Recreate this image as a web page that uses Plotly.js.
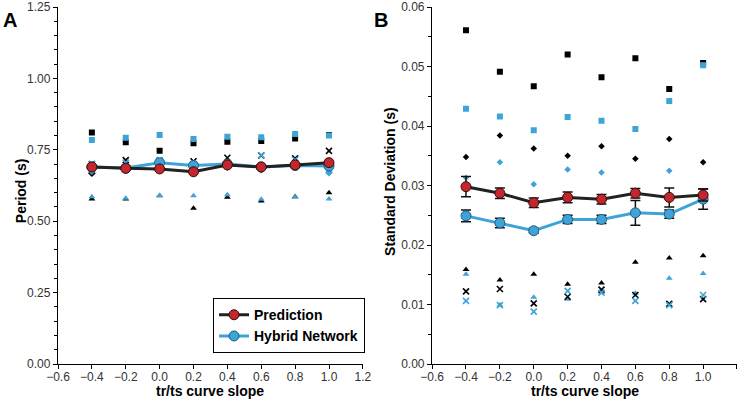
<!DOCTYPE html>
<html>
<head>
<meta charset="utf-8">
<script src="https://cdn.plot.ly/plotly-3.0.1.min.js"></script>
<style>html,body{margin:0;padding:0;background:#fff;}#chart{width:744px;height:401px;}</style>
</head>
<body>
<div id="chart"></div>
<script>
// x categories: tr/ts curve slope
const slopes = [-0.4, -0.2, 0.0, 0.2, 0.4, 0.6, 0.8, 1.0];

// Panel A: Period (s)
const periodPrediction = [0.690, 0.685, 0.683, 0.673, 0.697, 0.690, 0.697, 0.705];
const periodHybrid     = [0.690, 0.686, 0.705, 0.695, 0.700, 0.690, 0.695, 0.693];
const periodBlackSquare = [0.811, 0.776, 0.747, 0.773, 0.778, 0.781, 0.790, 0.802];
const periodBlueSquare  = [0.784, 0.792, 0.802, 0.788, 0.796, 0.794, 0.805, 0.800];
const periodBlackTri    = [0.578, 0.578, 0.589, 0.545, 0.584, 0.571, 0.586, 0.600];
const periodBlueTri     = [0.586, 0.580, 0.590, 0.589, 0.593, 0.577, 0.585, 0.578];
const periodBlackX      = [0.700, 0.714, 0.710, 0.710, 0.722, 0.730, 0.720, 0.746];
const periodBlueX       = [0.700, 0.705, 0.714, 0.700, 0.700, 0.731, 0.715, 0.685];
const periodBlackDiam   = [0.668, 0.680, 0.690, 0.685, 0.690, 0.685, 0.690, 0.695];
const periodBlueDiam    = [0.675, 0.680, 0.690, 0.680, 0.695, 0.680, 0.690, 0.670];

// Panel B: Standard deviation (s)
const sdPrediction    = [0.0298, 0.0287, 0.0271, 0.0280, 0.0277, 0.0287, 0.0280, 0.0284];
const sdPredictionErr = [0.0017, 0.0009, 0.0008, 0.0009, 0.0008, 0.0008, 0.0016, 0.0010];
const sdHybrid        = [0.0249, 0.0237, 0.0224, 0.0243, 0.0243, 0.0254, 0.0252, 0.0277];
const sdHybridErr     = [0.0010, 0.0008, 0.0004, 0.0007, 0.0007, 0.0021, 0.0007, 0.0017];
const sdBlackSquare = [0.0561, 0.0491, 0.0467, 0.0520, 0.0482, 0.0514, 0.0462, 0.0506];
const sdBlueSquare  = [0.0429, 0.0416, 0.0393, 0.0415, 0.0409, 0.0395, 0.0442, 0.0502];
const sdBlackDiam   = [0.0348, 0.0384, 0.0362, 0.0350, 0.0366, 0.0345, 0.0378, 0.0339];
const sdBlueDiam    = [0.0313, 0.0339, 0.0302, 0.0327, 0.0322, 0.0289, 0.0325, 0.0280];
const sdBlackTri    = [0.0159, 0.0141, 0.0151, 0.0134, 0.0136, 0.0171, 0.0178, 0.0182];
const sdBlueTri     = [0.0151, 0.0099, 0.0112, 0.0109, 0.0120, 0.0119, 0.0144, 0.0152];
const sdBlackX      = [0.0122, 0.0126, 0.0102, 0.0113, 0.0125, 0.0116, 0.0101, 0.0109];
const sdBlueX       = [0.0106, 0.0099, 0.0088, 0.0123, 0.0120, 0.0106, 0.0099, 0.0116];

// Text
const xTitle = 'tr/ts curve slope';
const yTitleA = 'Period (s)';
const yTitleB = 'Standard Deviation (s)';

const BLACK = '#000000';
const BLUE = '#3ea3d6';
const RED = '#c1272d';
const LINEBLACK = '#222222';
const FONT = 'Liberation Sans, Arial, sans-serif';

function pts(y, sym, color, size, xa, ya) {
  return {
    x: slopes, y: y, type: 'scatter', mode: 'markers', showlegend: false,
    xaxis: xa, yaxis: ya, hoverinfo: 'skip',
    marker: {symbol: sym, color: color, size: size,
             line: {color: color, width: sym === 'x-thin' ? 1.6 : 0}}
  };
}

const traces = [];
// Panel A individual points
traces.push(pts(periodBlackSquare, 'square', BLACK, 6, 'x', 'y'));
traces.push(pts(periodBlueSquare, 'square', BLUE, 6, 'x', 'y'));
traces.push(pts(periodBlackTri, 'triangle-up', BLACK, 6, 'x', 'y'));
traces.push(pts(periodBlueTri, 'triangle-up', BLUE, 6, 'x', 'y'));
traces.push(pts(periodBlackX, 'x-thin', BLACK, 6, 'x', 'y'));
traces.push(pts(periodBlueX, 'x-thin', BLUE, 6, 'x', 'y'));
traces.push(pts(periodBlackDiam, 'diamond', BLACK, 6, 'x', 'y'));
traces.push(pts(periodBlueDiam, 'diamond', BLUE, 6, 'x', 'y'));
// Panel A means
traces.push({x: slopes, y: periodHybrid, type: 'scatter', mode: 'lines+markers', name: 'Hybrid Network',
  xaxis: 'x', yaxis: 'y', showlegend: false,
  line: {color: BLUE, width: 3}, marker: {color: BLUE, size: 10, line: {color: '#1f5f80', width: 1}}});
traces.push({x: slopes, y: periodPrediction, type: 'scatter', mode: 'lines+markers', name: 'Prediction',
  xaxis: 'x', yaxis: 'y', showlegend: false,
  line: {color: LINEBLACK, width: 3}, marker: {color: RED, size: 10, line: {color: '#3a0a0a', width: 1}}});

// Panel B individual points
traces.push(pts(sdBlackSquare, 'square', BLACK, 6, 'x2', 'y2'));
traces.push(pts(sdBlueSquare, 'square', BLUE, 6, 'x2', 'y2'));
traces.push(pts(sdBlackDiam, 'diamond', BLACK, 5, 'x2', 'y2'));
traces.push(pts(sdBlueDiam, 'diamond', BLUE, 5, 'x2', 'y2'));
traces.push(pts(sdBlackTri, 'triangle-up', BLACK, 6, 'x2', 'y2'));
traces.push(pts(sdBlueTri, 'triangle-up', BLUE, 6, 'x2', 'y2'));
traces.push(pts(sdBlackX, 'x-thin', BLACK, 6, 'x2', 'y2'));
traces.push(pts(sdBlueX, 'x-thin', BLUE, 6, 'x2', 'y2'));
// Panel B means with error bars
traces.push({x: slopes, y: sdHybrid, type: 'scatter', mode: 'lines+markers', name: 'Hybrid Network',
  xaxis: 'x2', yaxis: 'y2', showlegend: false,
  error_y: {type: 'data', array: sdHybridErr, visible: true, color: '#111', thickness: 1.5, width: 5},
  line: {color: BLUE, width: 3}, marker: {color: BLUE, size: 10, line: {color: '#1f5f80', width: 1}}});
traces.push({x: slopes, y: sdPrediction, type: 'scatter', mode: 'lines+markers', name: 'Prediction',
  xaxis: 'x2', yaxis: 'y2', showlegend: false,
  error_y: {type: 'data', array: sdPredictionErr, visible: true, color: '#111', thickness: 1.5, width: 5},
  line: {color: LINEBLACK, width: 3}, marker: {color: RED, size: 10, line: {color: '#3a0a0a', width: 1}}});

// Legend entries (no data drawn)
traces.push({x: [null], y: [null], type: 'scatter', mode: 'lines+markers', name: 'Prediction',
  xaxis: 'x', yaxis: 'y', showlegend: true,
  line: {color: LINEBLACK, width: 3}, marker: {color: RED, size: 10, line: {color: '#3a0a0a', width: 1}}});
traces.push({x: [null], y: [null], type: 'scatter', mode: 'lines+markers', name: 'Hybrid Network',
  xaxis: 'x', yaxis: 'y', showlegend: true,
  line: {color: BLUE, width: 3}, marker: {color: BLUE, size: 10, line: {color: '#1f5f80', width: 1}}});

const tickFont = {family: FONT, size: 12, color: '#333'};
const titleFont = {family: FONT, size: 14, color: '#000', weight: 'bold'};

function xax(domain, anchor) {
  return {domain: domain, anchor: anchor, range: [-0.6, 1.2], dtick: 0.2, tick0: -0.6,
    tickformat: '.1f', showgrid: false, zeroline: false, showline: true, linecolor: '#000', linewidth: 1.2,
    ticks: 'outside', ticklen: 4, tickcolor: '#000', tickfont: tickFont, ticklabelstandoff: -3};
}
function yax(range, dtick, minor, fmt, anchor) {
  return {domain: [0, 1], anchor: anchor, range: range, dtick: dtick, tick0: 0, tickformat: fmt,
    showgrid: false, zeroline: false, showline: true, linecolor: '#000', linewidth: 1.2,
    ticks: 'outside', ticklen: 4, tickcolor: '#000', tickfont: tickFont,
    minor: {dtick: minor, ticks: 'outside', ticklen: 3, tickcolor: '#000', showgrid: false}};
}

function ann(text, x, y, opts) {
  return Object.assign({text: text, xref: 'paper', yref: 'paper', x: x, y: y, showarrow: false}, opts);
}

const layout = {
  width: 744, height: 401,
  margin: {l: 58, r: 7, t: 7, b: 37},
  paper_bgcolor: '#fff', plot_bgcolor: '#fff',
  font: {family: FONT},
  xaxis: xax([0, 0.449], 'y'),
  yaxis: yax([0, 1.25], 0.25, 0.05, '.2f', 'x'),
  xaxis2: xax([0.551, 1], 'y2'),
  yaxis2: yax([0, 0.06], 0.01, 0.005, '.2f', 'x2'),
  legend: {x: 0.228, y: 0.185, xanchor: 'left', yanchor: 'top', bgcolor: '#fff',
    bordercolor: '#000', borderwidth: 1.2, tracegroupgap: 0, itemwidth: 30,
    font: {family: FONT, size: 14, color: '#000', weight: 'bold'}},
  annotations: [
    ann('A', -0.07, 1.0, {xanchor: 'center', yanchor: 'top',
      font: {family: FONT, size: 20, color: '#000', weight: 'bold'}}),
    ann('B', 0.476, 1.0, {xanchor: 'center', yanchor: 'top',
      font: {family: FONT, size: 20, color: '#000', weight: 'bold'}}),
    ann(xTitle, 0.2245, -0.075, {xanchor: 'center', yanchor: 'middle', font: titleFont}),
    ann(xTitle, 0.7755, -0.075, {xanchor: 'center', yanchor: 'middle', font: titleFont}),
    ann(yTitleA, -0.054, 0.485, {xanchor: 'center', yanchor: 'middle', textangle: -90, font: titleFont}),
    ann(yTitleB, 0.489, 0.51, {xanchor: 'center', yanchor: 'middle', textangle: -90, font: titleFont})
  ]
};

Plotly.newPlot('chart', traces, layout, {displayModeBar: false, staticPlot: true});
</script>
</body>
</html>
